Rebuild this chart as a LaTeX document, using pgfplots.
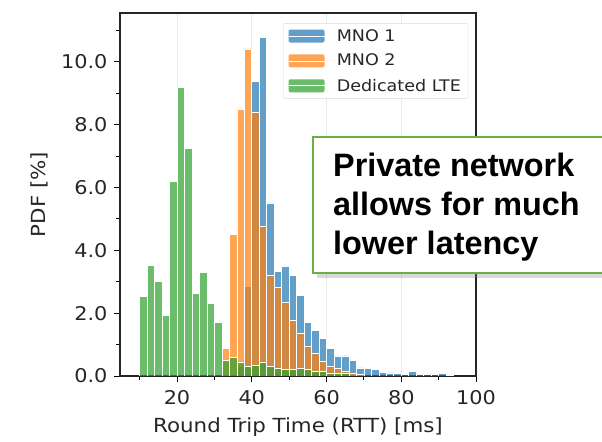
\documentclass[border=0pt]{standalone}
\usepackage{pgfplots}
\pgfplotsset{compat=1.18}
\usepackage{fontspec}
\setmainfont{DejaVu Sans}[FakeStretch=1.1]
\newfontfamily\annfont{Liberation Sans}
\usetikzlibrary{shadows}
\definecolor{tabblue}{HTML}{1F77B4}
\definecolor{taborange}{HTML}{FF7F0E}
\definecolor{tabgreen}{HTML}{2CA02C}
\definecolor{boxgreen}{HTML}{70AD47}
\begin{document}
\begin{tikzpicture}[x=1bp,y=1bp]
\useasboundingbox (0,0) rectangle (602,442);
\begin{axis}[
  at={(120bp,66bp)}, anchor=south west,
  scale only axis, width=356bp, height=363bp,
  xmin=4.75, xmax=100, ymin=0, ymax=11.55,
  xtick={20,40,60,80,100}, minor xtick={10,30,50,70,90},
  ytick={0,2,4,6,8,10}, minor ytick={1,3,5,7,9,11},
  tick align=outside, tick pos=left,
  major tick length=6bp, minor tick length=4bp,
  every tick/.style={black, line width=0.8bp},
  axis line style={line width=1.1bp, black!85},
  /pgf/number format/assume math mode=true,
  yticklabel style={xshift=-3bp, /pgf/number format/.cd, fixed, fixed zerofill, precision=1},
  xticklabel style={yshift=-5bp, /pgf/number format/.cd, fixed, precision=0},
  tick label style={font=\fontsize{19}{22}\selectfont, text=black!85},
  label style={font=\fontsize{19.5}{23}\selectfont, text=black!85},
  xlabel={Round Trip Time (RTT) [ms]},
  ylabel={PDF [\%]},
  xlabel style={at={(axis description cs:0.5,-0.14)}, anchor=center},
  ylabel style={at={(axis description cs:-0.225,0.5)}, anchor=center, rotate=0},
  xmajorgrids, grid style={gray!15, line width=0.8bp},
  legend style={at={(0.978,0.972)}, anchor=north east, draw=gray!30, rounded corners=2bp,
    font=\fontsize{16}{19}\selectfont, fill=white, inner xsep=5bp, inner ysep=4bp,
    row sep=7.5bp, text=black!85},
  legend cell align=left,
  legend image code/.code={\fill[#1, draw=none] (0bp,-6.5bp) rectangle (36bp,6.5bp); \path (0bp,0bp) -- (46bp,0bp);},
  every axis plot/.append style={ybar, bar width=2, bar shift=0pt, draw=white, line width=0.6bp, fill opacity=0.7},
]
\addplot[fill=tabblue] coordinates {
(37,0.3) (39,2.85) (41,9.38) (43,10.78) (45,5.51) (47,3.32) (49,3.5) (51,3.21) (53,2.57)
(55,1.71) (57,1.45) (59,1.19) (61,0.88) (63,0.64) (65,0.64) (67,0.5) (69,0.26) (71,0.23)
(73,0.2) (75,0.12) (77,0.1) (79,0.08) (81,0.05) (83,0.15) (85,0.04) (87,0.05) (89,0.06)
(91,0.08) (93,0.02)};
\addlegendentry{MNO 1}
\addplot[fill=taborange] coordinates {
(33,0.87) (35,4.5) (37,8.48) (39,10.41) (41,8.4) (43,4.77) (45,3.2) (47,2.82) (49,2.33)
(51,1.76) (53,1.35) (55,0.93) (57,0.72) (59,0.47) (61,0.31) (63,0.26) (65,0.15) (67,0.1)
(69,0.05)};
\addlegendentry{MNO 2}
\addplot[fill=tabgreen] coordinates {
(11,2.54) (13,3.52) (15,3.0) (17,1.92) (19,6.2) (21,9.17) (23,7.25) (25,2.62) (27,3.3)
(29,2.3) (31,1.7) (33,0.5) (35,0.6) (37,0.45) (39,0.3) (41,0.35) (43,0.45) (45,0.3)
(47,0.25) (49,0.2) (51,0.2) (53,0.25) (55,0.2) (57,0.15) (59,0.15) (61,0.1) (63,0.1)
(65,0.1)};
\addlegendentry{Dedicated LTE}
\end{axis}
\path[draw=boxgreen, line width=1.6bp, fill=white,
  drop shadow={shadow xshift=4bp, shadow yshift=-5bp, opacity=0.3}]
  (313,169) rectangle (640,305);
\node[anchor=base west, inner sep=0pt, font=\annfont\bfseries\fontsize{32.5}{38}\selectfont] at (333,265) {Private network};
\node[anchor=base west, inner sep=0pt, font=\annfont\bfseries\fontsize{32.5}{38}\selectfont] at (333,226) {allows for much};
\node[anchor=base west, inner sep=0pt, font=\annfont\bfseries\fontsize{32.5}{38}\selectfont] at (333,187) {lower latency};
\end{tikzpicture}
\end{document}
